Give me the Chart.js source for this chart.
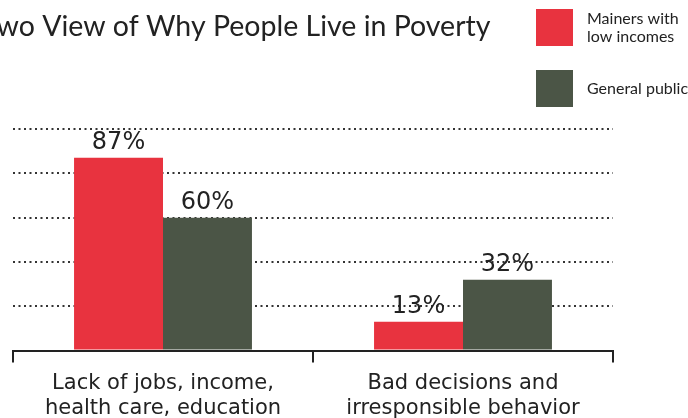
<!DOCTYPE html>
<html>
<head>
<meta charset="utf-8">
<script src="https://cdn.jsdelivr.net/npm/chart.js@4/dist/chart.umd.min.js"></script>
<style>
  html, body { margin: 0; padding: 0; background: #fff; }
  #wrap { width: 688px; height: 418px; position: relative; }
</style>
</head>
<body>
<div id="wrap"><canvas id="graf"></canvas></div>
<script>
// data
var titulo = 'Two View of Why People Live in Poverty';
var categorias = [['Lack of jobs, income,', 'health care, education'], ['Bad decisions and', 'irresponsible behavior']];
var series = [['Mainers with', 'low incomes'], ['General public']];
var mainers = [87, 13];
var publico = [60, 32];
var cores = ['#E8333F', '#4B5546'];
var ticksY = [0, 20, 40, 60, 80, 100];

var fonteTexto = '"DejaVu Sans", sans-serif';
var fonteTitulo = 'Lato, "Open Sans", sans-serif';

// title, legend and value labels
var extras = {
    id: 'extras',
    afterDraw: function (chart) {
        var c = chart.ctx;
        c.save();
        // title (left part is cut off in the original)
        c.font = '28.5px ' + fonteTitulo;
        c.fillStyle = '#222';
        c.textBaseline = 'alphabetic';
        c.textAlign = 'left';
        var corte = c.measureText('T').width;
        c.fillText(titulo, -corte - 1, 36);

        // legend
        var ys = [9, 70];
        chart.data.datasets.forEach(function (ds, i) {
            c.fillStyle = ds.backgroundColor;
            c.fillRect(536, ys[i], 37, 37);
            c.fillStyle = '#222';
            c.font = '16px ' + fonteTitulo;
            var linhas = series[i];
            var y0 = ys[i] + 18.5 - (linhas.length - 1) * 9;
            linhas.forEach(function (l, k) {
                c.textBaseline = 'middle';
                c.fillText(l, 587, y0 + k * 18);
            });
        });

        // value labels
        c.font = '24px ' + fonteTexto;
        c.fillStyle = '#222';
        c.textAlign = 'center';
        c.textBaseline = 'alphabetic';
        chart.data.datasets.forEach(function (ds, i) {
            chart.getDatasetMeta(i).data.forEach(function (bar, j) {
                c.fillText(ds.data[j] + '%', bar.x, bar.y - 9);
            });
        });
        c.restore();
    }
};

new Chart(document.getElementById('graf').getContext('2d'), {
    type: 'bar',
    data: {
        labels: categorias,
        datasets: [{
            label: series[0].join(' '),
            data: mainers,
            backgroundColor: cores[0]
        },
        {
            label: series[1].join(' '),
            data: publico,
            backgroundColor: cores[1]
        }]
    },
    options: {
        responsive: true,
        maintainAspectRatio: false,
        animation: false,
        layout: { padding: { left: 13, right: 75, top: 129, bottom: -11 } },
        plugins: {
            legend: { display: false },
            title: { display: false },
            tooltip: { enabled: false }
        },
        categoryPercentage: 0.593,
        barPercentage: 1,
        scales: {
            x: {
                grid: {
                    offset: true,
                    drawOnChartArea: false,
                    color: '#222',
                    lineWidth: 2,
                    tickLength: 12
                },
                border: { display: true, color: '#222', width: 2 },
                ticks: {
                    color: '#222',
                    padding: 8,
                    font: { family: fonteTexto, size: 21, lineHeight: 1.2 },
                    maxRotation: 0
                }
            },
            y: {
                min: 0,
                max: 100,
                afterBuildTicks: function (axis) {
                    axis.ticks = ticksY.map(function (v) { return { value: v }; });
                },
                ticks: { display: false },
                border: { display: false, dash: [2, 3.5] },
                grid: {
                    drawTicks: false,
                    color: '#333',
                    lineWidth: 2
                }
            }
        }
    },
    plugins: [extras]
});
</script>
</body>
</html>
